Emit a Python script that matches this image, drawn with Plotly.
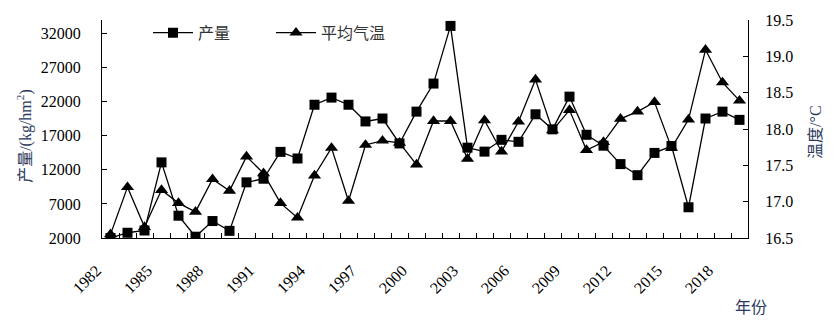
import plotly.graph_objects as go

# Annual yield (kg/hm2) and mean air temperature (°C), 1982-2019
years = list(range(1982, 2020))
yield_kg = [2000, 2770, 3100, 13100, 5270, 2190, 4490, 3050, 10170, 10700,
            14640, 13670, 21560, 22610, 21560, 19110, 19540, 15880, 20550, 24670,
            33130, 15260, 14680, 16410, 16120, 20160, 17950, 22750, 17150, 15550,
            12850, 11220, 14490, 15500, 6510, 19540, 20550, 19340]
temp_c = [16.55, 17.20, 16.65, 17.16, 16.98, 16.86, 17.31, 17.15, 17.62, 17.39,
          16.98, 16.78, 17.36, 17.74, 17.01, 17.78, 17.84, 17.81, 17.51, 18.11,
          18.11, 17.59, 18.12, 17.69, 18.10, 18.68, 17.98, 18.26, 17.71, 17.82,
          18.14, 18.24, 18.37, 17.74, 18.13, 19.09, 18.64, 18.39]
label_years = list(range(1982, 2019, 3))
yield_ticks = list(range(2000, 32001, 5000))
temp_ticks = [16.5, 17.0, 17.5, 18.0, 18.5, 19.0, 19.5]

SERIF = "Liberation Serif"
MIXED = "Liberation Serif, Noto Sans CJK SC, serif"
TITLE_COLOR = "#2b3a5c"

fig = go.Figure()
fig.add_trace(go.Scatter(
    x=years, y=yield_kg, name="产量", mode="lines+markers",
    line=dict(color="black", width=1.3),
    marker=dict(symbol="square", size=10, color="black"),
    yaxis="y"))
fig.add_trace(go.Scatter(
    x=years, y=temp_c, name="平均气温", mode="lines+markers",
    line=dict(color="black", width=1.3),
    marker=dict(symbol="triangle-up", size=11.5, color="black"),
    yaxis="y2"))

W, H = 835, 330
L, R, T, B = 102, 87, 16, 92
pw, ph = W - L - R, H - T - B

def px_x(x):
    return (x - L) / pw

def px_y(y):
    return (H - B - y) / ph

tick_font = dict(size=16, color="black", family=SERIF)

fig.update_layout(
    width=W, height=H,
    margin=dict(l=L, r=R, t=T, b=B, pad=0),
    paper_bgcolor="white", plot_bgcolor="white",
    font=dict(family=MIXED, size=16, color="black"),
    showlegend=True,
    legend=dict(orientation="h", x=px_x(148), y=px_y(29), xanchor="left",
                yanchor="middle", font=dict(size=16, color="#333333", family=MIXED),
                bgcolor="rgba(0,0,0,0)", entrywidth=68, entrywidthmode="pixels",
                itemwidth=40),
    xaxis=dict(
        range=[1981.5, 2019.5], tickmode="array", tickvals=label_years,
        ticktext=[str(v) for v in label_years], tickangle=-45,
        ticks="", showgrid=False, zeroline=False,
        showline=True, linecolor="black", linewidth=1,
        ticklabelstandoff=16, ticklabelshift=-14,
        tickfont=tick_font,
        minor=dict(tickmode="array", tickvals=[y + 0.5 for y in years[:-1]],
                   ticks="inside", ticklen=5, tickcolor="black", tickwidth=1,
                   showgrid=False),
    ),
    yaxis=dict(
        range=[2000, 34000], tickmode="array", tickvals=yield_ticks,
        ticktext=[str(v) for v in yield_ticks],
        ticks="inside", ticklen=5, tickcolor="black",
        showgrid=False, zeroline=False,
        showline=True, linecolor="black", linewidth=1,
        ticklabelstandoff=17, tickfont=tick_font,
    ),
    yaxis2=dict(
        range=[16.5, 19.5], tickmode="array", tickvals=temp_ticks,
        ticktext=[f"{v:.1f}" for v in temp_ticks], overlaying="y", side="right",
        ticks="inside", ticklen=5, tickcolor="black",
        showgrid=False, zeroline=False,
        showline=True, linecolor="black", linewidth=1,
        ticklabelstandoff=13, tickfont=tick_font,
    ),
    annotations=[
        dict(text="产量/(kg/hm<sup>2</sup>)", x=px_x(25), y=px_y(134),
             xref="paper", yref="paper", textangle=-90, showarrow=False,
             xanchor="center", yanchor="middle",
             font=dict(size=16, color=TITLE_COLOR, family=MIXED)),
        dict(text="温度/°C", x=px_x(816), y=px_y(130),
             xref="paper", yref="paper", textangle=-90, showarrow=False,
             xanchor="center", yanchor="middle",
             font=dict(size=16, color=TITLE_COLOR, family=MIXED)),
        dict(text="年份", x=px_x(751), y=px_y(309),
             xref="paper", yref="paper", showarrow=False,
             xanchor="center", yanchor="middle",
             font=dict(size=16, color=TITLE_COLOR, family=MIXED)),
    ],
)

fig.write_html("out.html")
